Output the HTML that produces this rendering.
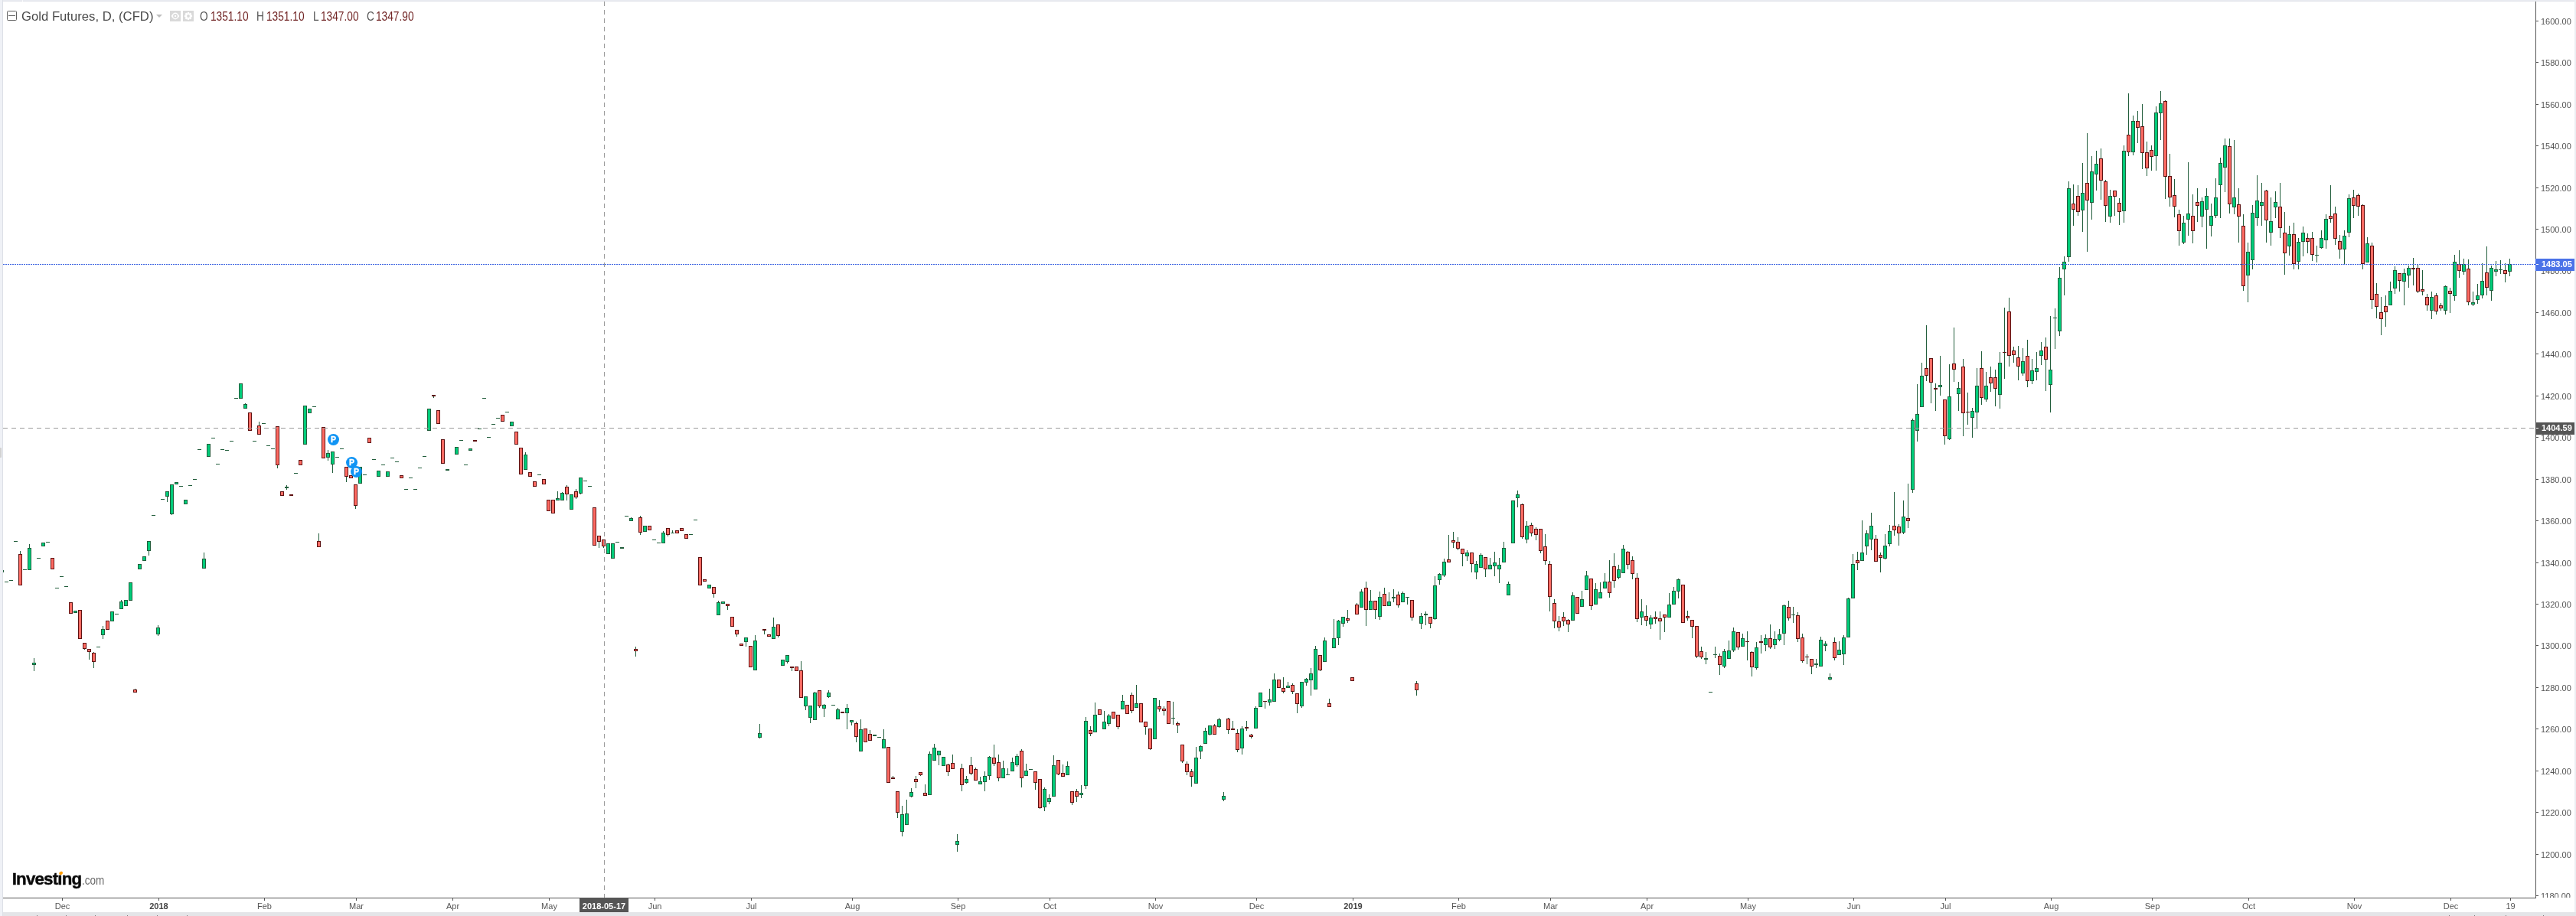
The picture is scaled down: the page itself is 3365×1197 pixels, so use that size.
<!DOCTYPE html>
<html><head><meta charset="utf-8"><title>Gold Futures</title>
<style>
html,body{margin:0;padding:0;background:#fff}
body{width:3365px;height:1197px;position:relative;overflow:hidden;font-family:"Liberation Sans",sans-serif;color:#555}
i,span,div,svg{position:absolute;display:block}
span{white-space:nowrap}
#lb{left:0;top:0;width:3px;height:1197px;background:#eff1f6;border-right:1px solid #dde0e7}
#tb{left:0;top:0;width:3365px;height:1px;background:#e9ebf1;border-bottom:1px solid #dfe2e9}
#rb{left:3363px;top:0;width:2px;height:1197px;background:#eceef3}
#bb{left:3px;top:1192px;width:3362px;height:5px;background:#e4e5e8}
#ax{left:3312px;top:2px;width:1px;height:1172px;background:#555}
#ay{left:4px;top:1173px;width:3309px;height:1px;background:#555}
.pt{left:3313px;width:3px;height:1px;background:#555}
.pl{left:3319px;font-size:11px;line-height:13px;height:13px;color:#555}
.tt{top:1174px;width:1px;height:3px;background:#555}
.tl{top:1178px;width:61px;text-align:center;font-size:11px;line-height:13px;color:#555}
.tl.b{font-weight:bold;color:#444}
#pclip{left:3313px;top:0;width:50px;height:1173px;overflow:hidden}
svg{left:0;top:0}
.h{top:11.5px;line-height:20px;height:20px}
.t17{font-size:16.4px;color:#4a4a4a;transform:scaleX(1.018);transform-origin:0 0;top:10.8px}
.t14{font-size:16px;transform:scaleX(.856);transform-origin:0 0}
.v{color:#722626}
#wrap{left:0;top:0;width:3365px;height:1197px;will-change:transform}
.pm{width:15px;height:15px;border-radius:50%;background:#1094f4;color:#fff;font-weight:bold;font-size:10.5px;line-height:15px;text-align:center;-webkit-text-stroke:.3px #fff}
</style></head><body><div id="wrap">
<div id="tb"></div><div id="rb"></div><div id="bb"></div>
<svg width="3365" height="1197" viewBox="0 0 3365 1197" shape-rendering="crispEdges">
<path d="M26.5 720V765M38.5 711V745M44.5 860V877M110.5 840V849M116.5 848V862M122.5 852V873M134.5 818V835M158.5 784V796M176.5 900V905M194.5 707V726M206.5 817V831M218.5 642V656M224.5 633V673M266.5 722V743M320.5 527V534M338.5 551V568M362.5 557V612M374.5 634V640M416.5 697V715M428.5 588V602M434.5 590V618M452.5 610V630M464.5 633V665M566.5 516V520M686.5 591V614M728.5 642V654M734.5 643V654M740.5 634V654M752.5 639V652M758.5 624V646M782.5 700V716M788.5 705V716M824.5 676V681M830.5 845V858M836.5 674V699M866.5 694V710M872.5 690V701M878.5 693V697M932.5 767V781M938.5 785V804M950.5 789V797M962.5 823V832M974.5 833V845M986.5 830V876M992.5 946V965M998.5 822V829M1010.5 807V835M1016.5 816V833M1028.5 856V867M1034.5 871V877M1046.5 864V912M1052.5 910V928M1058.5 922V945M1064.5 904V941M1070.5 902V925M1076.5 920V937M1082.5 902V912M1094.5 925V940M1106.5 920V953M1112.5 941V948M1118.5 943V970M1124.5 940V982M1136.5 954V968M1154.5 953V978M1166.5 1014V1018M1172.5 1034V1069M1178.5 1053V1093M1184.5 1045V1078M1190.5 1030V1042M1196.5 1014V1030M1202.5 1009V1014M1208.5 1025V1040M1214.5 982V1039M1220.5 972V994M1226.5 981V1000M1238.5 998V1014M1244.5 986V1005M1250.5 1090V1113M1256.5 998V1034M1262.5 1014V1024M1268.5 989V1013M1274.5 1003V1020M1280.5 1015V1025M1286.5 1008V1034M1292.5 988V1019M1298.5 973V1001M1304.5 986V1021M1310.5 994V1017M1316.5 1004V1013M1322.5 990V1008M1328.5 985V1002M1334.5 979V1029M1340.5 998V1014M1352.5 1008V1032M1358.5 1018V1057M1364.5 1029V1060M1370.5 1038V1051M1376.5 987V1041M1382.5 993V1013M1388.5 999V1015M1394.5 995V1013M1400.5 1034V1052M1406.5 1031V1048M1412.5 1026V1043M1418.5 937V1031M1424.5 949V962M1430.5 918V957M1442.5 929V953M1448.5 933V949M1460.5 934V953M1466.5 908V927M1478.5 905V932M1484.5 895V925M1496.5 943V960M1502.5 952V980M1514.5 915V930M1520.5 923V935M1532.5 917V947M1538.5 943V958M1544.5 973V997M1550.5 995V1013M1556.5 1005V1028M1562.5 976V1024M1568.5 974V992M1574.5 951V972M1580.5 948V961M1586.5 946V960M1592.5 938V951M1598.5 1035V1047M1604.5 938V959M1610.5 942V954M1616.5 953V983M1622.5 949V986M1628.5 942V955M1634.5 959V965M1640.5 923V952M1652.5 916V926M1658.5 900V922M1664.5 880V917M1676.5 885V906M1682.5 891V899M1688.5 893V907M1694.5 906V932M1700.5 891V925M1706.5 886V896M1712.5 873V909M1718.5 844V901M1724.5 856V877M1730.5 833V865M1736.5 913V924M1742.5 809V847M1748.5 810V843M1754.5 806V819M1760.5 797V814M1772.5 788V803M1778.5 770V794M1784.5 760V818M1790.5 771V797M1796.5 785V809M1802.5 773V810M1808.5 768V792M1814.5 774V792M1820.5 770V787M1826.5 773V794M1832.5 773V787M1838.5 780V790M1844.5 784V811M1850.5 890V909M1856.5 801V822M1862.5 799V817M1868.5 806V821M1874.5 753V810M1880.5 749V764M1886.5 730V754M1892.5 699V735M1898.5 695V716M1904.5 702V719M1910.5 717V740M1916.5 719V733M1922.5 722V748M1928.5 733V757M1934.5 723V742M1940.5 728V754M1946.5 729V744M1952.5 721V753M1958.5 729V762M1964.5 708V735M1970.5 760V778M1982.5 641V663M1988.5 658V704M1994.5 681V710M2000.5 683V701M2006.5 689V706M2012.5 691V723M2018.5 698V738M2024.5 733V799M2030.5 783V821M2036.5 805V825M2042.5 800V818M2048.5 809V826M2054.5 774V811M2066.5 772V793M2072.5 746V771M2078.5 756V797M2084.5 762V790M2090.5 761V782M2096.5 749V769M2102.5 732V781M2108.5 723V768M2114.5 738V757M2120.5 712V749M2126.5 720V744M2132.5 727V757M2138.5 749V813M2144.5 783V817M2150.5 791V818M2156.5 804V822M2162.5 799V815M2168.5 799V836M2174.5 803V826M2180.5 775V807M2186.5 767V790M2192.5 756V782M2204.5 798V811M2210.5 810V834M2216.5 818V860M2222.5 845V861M2228.5 852V868M2240.5 845V860M2246.5 854V882M2252.5 848V873M2258.5 837V861M2264.5 820V852M2270.5 826V849M2276.5 828V845M2282.5 825V863M2288.5 851V884M2294.5 839V875M2300.5 830V854M2306.5 829V851M2312.5 816V848M2318.5 825V848M2324.5 822V838M2330.5 790V843M2336.5 785V811M2342.5 793V814M2348.5 800V839M2354.5 828V866M2360.5 855V868M2366.5 861V881M2372.5 861V873M2378.5 832V871M2384.5 838V851M2390.5 880V889M2396.5 833V863M2402.5 838V856M2408.5 830V869M2414.5 781V833M2420.5 724V782M2426.5 721V745M2432.5 680V733M2438.5 693V725M2444.5 670V719M2450.5 699V734M2456.5 722V748M2462.5 698V731M2468.5 686V714M2474.5 643V700M2480.5 685V713M2486.5 654V698M2492.5 632V690M2498.5 547V644M2504.5 502V577M2510.5 474V532M2516.5 425V498M2522.5 468V527M2528.5 501V537M2534.5 465V517M2540.5 522V581M2546.5 476V575M2552.5 428V499M2558.5 499V537M2564.5 469V570M2570.5 513V555M2576.5 533V572M2582.5 481V559M2588.5 459V529M2594.5 486V525M2600.5 479V512M2606.5 483V531M2612.5 460V534M2618.5 402V495M2624.5 389V479M2630.5 453V474M2636.5 452V497M2642.5 455V491M2648.5 444V506M2654.5 469V502M2660.5 460V497M2666.5 447V477M2672.5 441V511M2678.5 413V539M2684.5 403V456M2690.5 349V439M2696.5 335V386M2702.5 237V342M2708.5 241V295M2714.5 242V282M2720.5 213V303M2726.5 174V329M2732.5 204V287M2738.5 197V249M2744.5 194V261M2750.5 235V290M2756.5 248V291M2762.5 249V282M2768.5 259V294M2774.5 190V291M2780.5 122V204M2786.5 151V203M2792.5 145V187M2798.5 136V221M2804.5 185V230M2810.5 190V223M2816.5 139V223M2822.5 119V183M2828.5 131V260M2834.5 201V270M2840.5 234V284M2846.5 274V321M2852.5 282V319M2858.5 212V308M2864.5 254V318M2870.5 246V290M2876.5 258V297M2882.5 246V325M2888.5 266V309M2894.5 233V285M2900.5 206V285M2906.5 181V251M2912.5 181V279M2918.5 183V280M2924.5 246V317M2930.5 280V380M2936.5 317V395M2942.5 268V352M2948.5 229V295M2954.5 239V295M2960.5 248V317M2966.5 258V321M2972.5 250V285M2978.5 239V311M2984.5 277V359M2990.5 295V334M2996.5 291V352M3002.5 311V352M3008.5 296V335M3014.5 305V331M3020.5 303V341M3026.5 321V343M3032.5 301V325M3038.5 280V325M3044.5 242V291M3050.5 270V320M3056.5 307V338M3062.5 301V346M3068.5 254V310M3074.5 248V285M3080.5 253V282M3086.5 267V352M3092.5 310V343M3098.5 317V404M3104.5 370V416M3110.5 388V438M3116.5 386V427M3122.5 368V399M3128.5 348V384M3134.5 357V381M3140.5 351V399M3146.5 347V376M3152.5 337V373M3158.5 346V383M3164.5 353V386M3170.5 384V406M3176.5 381V417M3182.5 383V411M3188.5 396V406M3194.5 373V411M3200.5 376V409M3206.5 333V393M3212.5 327V363M3218.5 338V359M3224.5 339V399M3230.5 381V400M3236.5 371V397M3242.5 344V390M3248.5 322V386M3254.5 347V393M3260.5 341V361M3266.5 340V358M3272.5 344V369M3278.5 338V361" stroke="#225e3c" fill="none"/>
<path d="M0.5 745.5h4v2h-4zM36.5 716.5h4v28h-4zM42.5 866.5h4v2h-4zM54.5 709.5h4v4h-4zM96.5 798.5h4v2h-4zM132.5 822.5h4v7h-4zM144.5 799.5h4v12h-4zM156.5 786.5h4v9h-4zM162.5 784.5h4v7h-4zM168.5 761.5h4v23h-4zM180.5 737.5h4v6h-4zM186.5 727.5h4v5h-4zM192.5 707.5h4v12h-4zM204.5 820.5h4v8h-4zM216.5 642.5h4v6h-4zM222.5 633.5h4v38h-4zM228.5 630.5h4v2h-4zM240.5 653.5h4v5h-4zM264.5 730.5h4v12h-4zM270.5 580.5h4v16h-4zM312.5 501.5h4v19h-4zM318.5 528.5h4v5h-4zM372.5 636.5h4v1h-4zM396.5 530.5h4v50h-4zM402.5 534.5h4v5h-4zM426.5 592.5h4v5h-4zM432.5 590.5h4v16h-4zM468.5 610.5h4v21h-4zM492.5 615.5h4v7h-4zM504.5 616.5h4v6h-4zM558.5 534.5h4v28h-4zM582.5 613.5h4v1h-4zM594.5 584.5h4v9h-4zM612.5 586.5h4v2h-4zM666.5 551.5h4v5h-4zM684.5 594.5h4v19h-4zM726.5 651.5h4v2h-4zM732.5 644.5h4v9h-4zM744.5 646.5h4v19h-4zM756.5 624.5h4v20h-4zM792.5 710.5h4v13h-4zM798.5 710.5h4v19h-4zM810.5 715.5h4v1h-4zM822.5 677.5h4v3h-4zM840.5 687.5h4v7h-4zM864.5 696.5h4v13h-4zM924.5 764.5h4v4h-4zM936.5 787.5h4v16h-4zM942.5 786.5h4v2h-4zM972.5 833.5h4v5h-4zM984.5 837.5h4v38h-4zM990.5 958.5h4v5h-4zM1008.5 819.5h4v15h-4zM1020.5 862.5h4v7h-4zM1026.5 856.5h4v8h-4zM1050.5 910.5h4v12h-4zM1056.5 922.5h4v15h-4zM1062.5 905.5h4v35h-4zM1074.5 921.5h4v4h-4zM1080.5 905.5h4v5h-4zM1092.5 927.5h4v12h-4zM1104.5 925.5h4v6h-4zM1110.5 941.5h4v2h-4zM1122.5 953.5h4v28h-4zM1140.5 960.5h4v1h-4zM1152.5 966.5h4v11h-4zM1176.5 1064.5h4v22h-4zM1182.5 1063.5h4v14h-4zM1188.5 1035.5h4v5h-4zM1212.5 985.5h4v53h-4zM1218.5 977.5h4v16h-4zM1224.5 981.5h4v5h-4zM1230.5 989.5h4v11h-4zM1248.5 1099.5h4v4h-4zM1260.5 1018.5h4v4h-4zM1278.5 1021.5h4v3h-4zM1284.5 1014.5h4v7h-4zM1290.5 989.5h4v24h-4zM1308.5 1004.5h4v12h-4zM1320.5 996.5h4v11h-4zM1326.5 988.5h4v11h-4zM1338.5 1007.5h4v6h-4zM1362.5 1031.5h4v23h-4zM1368.5 1043.5h4v4h-4zM1374.5 1000.5h4v40h-4zM1392.5 1001.5h4v11h-4zM1410.5 1036.5h4v2h-4zM1416.5 942.5h4v84h-4zM1428.5 934.5h4v22h-4zM1440.5 943.5h4v9h-4zM1446.5 935.5h4v10h-4zM1464.5 916.5h4v10h-4zM1482.5 919.5h4v5h-4zM1506.5 912.5h4v53h-4zM1560.5 990.5h4v33h-4zM1566.5 975.5h4v6h-4zM1572.5 955.5h4v16h-4zM1578.5 948.5h4v11h-4zM1590.5 940.5h4v9h-4zM1596.5 1040.5h4v4h-4zM1620.5 952.5h4v25h-4zM1638.5 925.5h4v26h-4zM1644.5 905.5h4v18h-4zM1656.5 914.5h4v3h-4zM1662.5 888.5h4v28h-4zM1680.5 896.5h4v2h-4zM1698.5 891.5h4v31h-4zM1704.5 887.5h4v4h-4zM1710.5 880.5h4v8h-4zM1716.5 848.5h4v52h-4zM1728.5 837.5h4v27h-4zM1740.5 834.5h4v12h-4zM1746.5 811.5h4v22h-4zM1752.5 806.5h4v8h-4zM1776.5 773.5h4v20h-4zM1788.5 785.5h4v11h-4zM1800.5 780.5h4v25h-4zM1812.5 786.5h4v5h-4zM1818.5 780.5h4v1h-4zM1830.5 775.5h4v11h-4zM1854.5 805.5h4v9h-4zM1860.5 802.5h4v1h-4zM1872.5 765.5h4v43h-4zM1878.5 750.5h4v7h-4zM1884.5 734.5h4v17h-4zM1914.5 722.5h4v4h-4zM1926.5 737.5h4v10h-4zM1932.5 725.5h4v16h-4zM1944.5 738.5h4v5h-4zM1950.5 735.5h4v4h-4zM1956.5 738.5h4v5h-4zM1962.5 716.5h4v18h-4zM1968.5 763.5h4v14h-4zM1974.5 654.5h4v55h-4zM1980.5 646.5h4v4h-4zM1992.5 687.5h4v17h-4zM2052.5 778.5h4v32h-4zM2064.5 783.5h4v9h-4zM2070.5 752.5h4v18h-4zM2082.5 770.5h4v19h-4zM2088.5 774.5h4v7h-4zM2094.5 760.5h4v8h-4zM2112.5 744.5h4v10h-4zM2118.5 717.5h4v31h-4zM2142.5 799.5h4v7h-4zM2154.5 807.5h4v8h-4zM2178.5 790.5h4v16h-4zM2184.5 772.5h4v17h-4zM2190.5 757.5h4v15h-4zM2226.5 860.5h4v1h-4zM2250.5 851.5h4v19h-4zM2256.5 850.5h4v10h-4zM2262.5 825.5h4v24h-4zM2274.5 834.5h4v10h-4zM2292.5 846.5h4v26h-4zM2304.5 834.5h4v8h-4zM2316.5 835.5h4v7h-4zM2322.5 829.5h4v6h-4zM2328.5 791.5h4v36h-4zM2370.5 867.5h4v1h-4zM2376.5 836.5h4v34h-4zM2382.5 841.5h4v2h-4zM2388.5 885.5h4v2h-4zM2400.5 849.5h4v6h-4zM2406.5 833.5h4v21h-4zM2412.5 782.5h4v50h-4zM2418.5 737.5h4v44h-4zM2430.5 722.5h4v10h-4zM2436.5 697.5h4v16h-4zM2442.5 687.5h4v17h-4zM2460.5 713.5h4v16h-4zM2466.5 694.5h4v16h-4zM2484.5 675.5h4v20h-4zM2496.5 549.5h4v90h-4zM2502.5 541.5h4v21h-4zM2508.5 491.5h4v40h-4zM2532.5 503.5h4v2h-4zM2544.5 518.5h4v55h-4zM2556.5 507.5h4v7h-4zM2574.5 537.5h4v8h-4zM2580.5 504.5h4v34h-4zM2592.5 504.5h4v17h-4zM2610.5 474.5h4v41h-4zM2640.5 472.5h4v15h-4zM2652.5 484.5h4v13h-4zM2658.5 481.5h4v4h-4zM2664.5 458.5h4v6h-4zM2676.5 483.5h4v19h-4zM2688.5 363.5h4v69h-4zM2694.5 342.5h4v9h-4zM2700.5 246.5h4v89h-4zM2718.5 252.5h4v22h-4zM2730.5 224.5h4v40h-4zM2736.5 214.5h4v13h-4zM2754.5 256.5h4v26h-4zM2772.5 197.5h4v78h-4zM2784.5 158.5h4v40h-4zM2814.5 147.5h4v56h-4zM2820.5 135.5h4v12h-4zM2850.5 291.5h4v25h-4zM2856.5 279.5h4v7h-4zM2874.5 263.5h4v19h-4zM2880.5 256.5h4v17h-4zM2886.5 282.5h4v12h-4zM2892.5 258.5h4v23h-4zM2898.5 213.5h4v28h-4zM2904.5 190.5h4v28h-4zM2916.5 258.5h4v12h-4zM2934.5 329.5h4v30h-4zM2940.5 278.5h4v61h-4zM2946.5 262.5h4v22h-4zM2952.5 264.5h4v4h-4zM2964.5 289.5h4v14h-4zM2970.5 264.5h4v6h-4zM2988.5 306.5h4v15h-4zM3000.5 316.5h4v25h-4zM3006.5 304.5h4v11h-4zM3030.5 311.5h4v12h-4zM3036.5 286.5h4v27h-4zM3060.5 308.5h4v17h-4zM3066.5 259.5h4v44h-4zM3090.5 318.5h4v24h-4zM3120.5 380.5h4v18h-4zM3126.5 353.5h4v23h-4zM3138.5 357.5h4v10h-4zM3144.5 350.5h4v9h-4zM3174.5 388.5h4v17h-4zM3192.5 374.5h4v31h-4zM3204.5 342.5h4v44h-4zM3216.5 345.5h4v9h-4zM3228.5 395.5h4v2h-4zM3234.5 386.5h4v5h-4zM3240.5 367.5h4v18h-4zM3252.5 350.5h4v29h-4zM3258.5 352.5h4v2h-4zM3276.5 345.5h4v9h-4z" stroke="#225e3c" fill="#00cc7a"/>
<path d="M24.5 724.5h4v40h-4zM66.5 729.5h4v14h-4zM90.5 787.5h4v14h-4zM102.5 797.5h4v37h-4zM108.5 840.5h4v7h-4zM114.5 848.5h4v3h-4zM120.5 853.5h4v11h-4zM138.5 811.5h4v11h-4zM174.5 901.5h4v3h-4zM324.5 539.5h4v23h-4zM336.5 556.5h4v11h-4zM360.5 557.5h4v50h-4zM366.5 642.5h4v5h-4zM378.5 646.5h4v1h-4zM390.5 601.5h4v6h-4zM414.5 707.5h4v7h-4zM420.5 558.5h4v40h-4zM450.5 610.5h4v12h-4zM456.5 621.5h4v3h-4zM462.5 633.5h4v27h-4zM480.5 572.5h4v6h-4zM522.5 621.5h4v3h-4zM564.5 516.5h4v1h-4zM570.5 536.5h4v17h-4zM576.5 574.5h4v31h-4zM618.5 575.5h4v1h-4zM654.5 542.5h4v8h-4zM672.5 564.5h4v16h-4zM678.5 585.5h4v34h-4zM690.5 617.5h4v5h-4zM696.5 629.5h4v6h-4zM708.5 626.5h4v6h-4zM714.5 653.5h4v14h-4zM720.5 653.5h4v17h-4zM738.5 636.5h4v9h-4zM750.5 642.5h4v7h-4zM774.5 663.5h4v49h-4zM780.5 700.5h4v7h-4zM786.5 705.5h4v8h-4zM828.5 848.5h4v2h-4zM834.5 676.5h4v19h-4zM846.5 687.5h4v5h-4zM870.5 690.5h4v8h-4zM882.5 693.5h4v3h-4zM888.5 690.5h4v3h-4zM894.5 698.5h4v5h-4zM912.5 728.5h4v36h-4zM918.5 757.5h4v2h-4zM930.5 767.5h4v8h-4zM948.5 789.5h4v2h-4zM954.5 806.5h4v12h-4zM960.5 823.5h4v5h-4zM966.5 841.5h4v2h-4zM978.5 844.5h4v27h-4zM996.5 822.5h4v1h-4zM1002.5 829.5h4v2h-4zM1014.5 816.5h4v14h-4zM1032.5 871.5h4v1h-4zM1038.5 871.5h4v5h-4zM1044.5 876.5h4v35h-4zM1068.5 902.5h4v20h-4zM1098.5 930.5h4v1h-4zM1116.5 945.5h4v17h-4zM1128.5 952.5h4v17h-4zM1134.5 959.5h4v8h-4zM1158.5 976.5h4v46h-4zM1164.5 1016.5h4v1h-4zM1170.5 1034.5h4v27h-4zM1194.5 1018.5h4v3h-4zM1200.5 1009.5h4v3h-4zM1206.5 1036.5h4v3h-4zM1236.5 999.5h4v9h-4zM1242.5 997.5h4v7h-4zM1254.5 1004.5h4v21h-4zM1266.5 1000.5h4v10h-4zM1272.5 1005.5h4v14h-4zM1296.5 990.5h4v7h-4zM1302.5 996.5h4v20h-4zM1332.5 981.5h4v35h-4zM1350.5 1008.5h4v14h-4zM1356.5 1018.5h4v37h-4zM1380.5 993.5h4v18h-4zM1386.5 1010.5h4v4h-4zM1398.5 1034.5h4v14h-4zM1404.5 1034.5h4v6h-4zM1422.5 954.5h4v4h-4zM1434.5 927.5h4v6h-4zM1452.5 930.5h4v8h-4zM1458.5 934.5h4v15h-4zM1470.5 921.5h4v11h-4zM1476.5 908.5h4v20h-4zM1488.5 919.5h4v24h-4zM1494.5 943.5h4v6h-4zM1500.5 952.5h4v26h-4zM1512.5 923.5h4v3h-4zM1518.5 926.5h4v2h-4zM1524.5 916.5h4v29h-4zM1536.5 945.5h4v2h-4zM1542.5 973.5h4v21h-4zM1548.5 998.5h4v10h-4zM1554.5 1008.5h4v6h-4zM1584.5 948.5h4v11h-4zM1602.5 939.5h4v14h-4zM1608.5 952.5h4v1h-4zM1614.5 958.5h4v21h-4zM1626.5 950.5h4v1h-4zM1632.5 960.5h4v2h-4zM1668.5 888.5h4v10h-4zM1674.5 899.5h4v4h-4zM1686.5 895.5h4v8h-4zM1692.5 906.5h4v13h-4zM1722.5 856.5h4v19h-4zM1734.5 919.5h4v4h-4zM1758.5 808.5h4v2h-4zM1764.5 885.5h4v4h-4zM1770.5 790.5h4v12h-4zM1782.5 768.5h4v28h-4zM1794.5 785.5h4v11h-4zM1806.5 776.5h4v15h-4zM1824.5 777.5h4v13h-4zM1842.5 784.5h4v22h-4zM1848.5 893.5h4v8h-4zM1866.5 806.5h4v8h-4zM1890.5 731.5h4v3h-4zM1896.5 706.5h4v2h-4zM1902.5 708.5h4v8h-4zM1908.5 717.5h4v6h-4zM1920.5 722.5h4v14h-4zM1938.5 728.5h4v15h-4zM1986.5 659.5h4v42h-4zM1998.5 686.5h4v10h-4zM2004.5 691.5h4v7h-4zM2010.5 691.5h4v28h-4zM2016.5 714.5h4v18h-4zM2022.5 737.5h4v42h-4zM2028.5 788.5h4v23h-4zM2034.5 812.5h4v7h-4zM2040.5 806.5h4v5h-4zM2046.5 810.5h4v5h-4zM2058.5 780.5h4v21h-4zM2076.5 756.5h4v35h-4zM2100.5 760.5h4v14h-4zM2106.5 740.5h4v18h-4zM2124.5 721.5h4v16h-4zM2130.5 732.5h4v17h-4zM2136.5 755.5h4v53h-4zM2148.5 805.5h4v5h-4zM2160.5 806.5h4v2h-4zM2166.5 808.5h4v3h-4zM2172.5 803.5h4v3h-4zM2196.5 764.5h4v49h-4zM2202.5 805.5h4v2h-4zM2208.5 810.5h4v8h-4zM2214.5 818.5h4v39h-4zM2220.5 851.5h4v7h-4zM2244.5 857.5h4v11h-4zM2268.5 826.5h4v19h-4zM2286.5 852.5h4v19h-4zM2298.5 838.5h4v1h-4zM2310.5 834.5h4v11h-4zM2334.5 793.5h4v14h-4zM2346.5 804.5h4v30h-4zM2352.5 833.5h4v30h-4zM2364.5 861.5h4v9h-4zM2394.5 839.5h4v20h-4zM2424.5 732.5h4v3h-4zM2448.5 704.5h4v29h-4zM2454.5 725.5h4v3h-4zM2472.5 687.5h4v5h-4zM2478.5 688.5h4v8h-4zM2490.5 677.5h4v3h-4zM2514.5 481.5h4v9h-4zM2520.5 468.5h4v31h-4zM2526.5 507.5h4v1h-4zM2538.5 522.5h4v47h-4zM2550.5 475.5h4v7h-4zM2562.5 479.5h4v60h-4zM2586.5 481.5h4v38h-4zM2598.5 493.5h4v7h-4zM2604.5 493.5h4v14h-4zM2622.5 407.5h4v57h-4zM2628.5 458.5h4v5h-4zM2634.5 467.5h4v11h-4zM2646.5 465.5h4v32h-4zM2670.5 453.5h4v16h-4zM2706.5 266.5h4v7h-4zM2712.5 256.5h4v20h-4zM2724.5 239.5h4v22h-4zM2742.5 207.5h4v28h-4zM2748.5 237.5h4v31h-4zM2760.5 249.5h4v7h-4zM2766.5 265.5h4v11h-4zM2778.5 176.5h4v22h-4zM2790.5 158.5h4v8h-4zM2796.5 165.5h4v34h-4zM2802.5 199.5h4v20h-4zM2808.5 196.5h4v8h-4zM2826.5 132.5h4v98h-4zM2832.5 230.5h4v27h-4zM2838.5 255.5h4v14h-4zM2844.5 280.5h4v21h-4zM2862.5 282.5h4v19h-4zM2868.5 264.5h4v4h-4zM2910.5 191.5h4v75h-4zM2922.5 267.5h4v15h-4zM2928.5 295.5h4v78h-4zM2958.5 249.5h4v38h-4zM2976.5 270.5h4v27h-4zM2982.5 304.5h4v26h-4zM2994.5 306.5h4v38h-4zM3012.5 311.5h4v4h-4zM3018.5 311.5h4v21h-4zM3042.5 282.5h4v3h-4zM3048.5 279.5h4v32h-4zM3054.5 315.5h4v10h-4zM3072.5 258.5h4v10h-4zM3078.5 255.5h4v14h-4zM3084.5 268.5h4v76h-4zM3096.5 321.5h4v70h-4zM3102.5 384.5h4v16h-4zM3108.5 408.5h4v8h-4zM3114.5 400.5h4v7h-4zM3132.5 357.5h4v9h-4zM3150.5 350.5h4v1h-4zM3156.5 350.5h4v30h-4zM3162.5 378.5h4v2h-4zM3168.5 388.5h4v10h-4zM3180.5 386.5h4v20h-4zM3186.5 399.5h4v3h-4zM3198.5 380.5h4v3h-4zM3210.5 345.5h4v8h-4zM3222.5 351.5h4v43h-4zM3246.5 356.5h4v19h-4zM3270.5 353.5h4v4h-4z" stroke="#5e1212" fill="#ff6b63"/>
<path d="M6 760.5h5M12 758.5h5M18 707.5h5M30 744.5h5M48 729.5h5M60 708.5h5M72 768.5h5M78 753.5h5M84 766.5h5M126 845.5h5M150 802.5h5M198 673.5h5M210 652.5h5M234 635.5h5M246 634.5h5M252 626.5h5M258 587.5h5M276 572.5h5M282 606.5h5M288 587.5h5M294 588.5h5M300 576.5h5M306 520.5h5M330 576.5h5M342 553.5h5M348 582.5h5M354 586.5h5M384 618.5h5M408 531.5h5M438 597.5h5M444 586.5h5M474 620.5h5M486 600.5h5M498 607.5h5M510 598.5h5M516 603.5h5M528 639.5h5M534 624.5h5M540 639.5h5M546 611.5h5M552 596.5h5M588 559.5h5M600 575.5h5M606 607.5h5M624 560.5h5M630 520.5h5M636 571.5h5M642 554.5h5M648 546.5h5M660 538.5h5M702 620.5h5M762 628.5h5M768 635.5h5M804 708.5h5M816 674.5h5M852 705.5h5M858 709.5h5M876 696.5h5M900 698.5h5M906 679.5h5M1086 921.5h5M1146 963.5h5M1314 1012.5h5M1344 1005.5h5M1530 938.5h5M1836 780.5h5M2238 855.5h5M2232 904.5h5M2340 803.5h5M2682 415.5h5M3024 333.5h5M3264 352.5h5" stroke="#225e3c" fill="none"/>
<path d="M1650 916.5h5M2280 838.5h5M2358 858.5h5M2568 538.5h5M2616 460.5h5" stroke="#5e1212" fill="none"/>
<path d="M4 345.5H3312" stroke="#3f66e2" stroke-dasharray="2 1" fill="none"/>
<path d="M4 559.5H3312" stroke="#9b9b9b" stroke-dasharray="6 5" fill="none"/>
<path d="M789.5 2V1173" stroke="#9b9b9b" stroke-dasharray="6 5" fill="none"/>
</svg>
<div id="lb"></div><i style="left:0;top:585px;width:2px;height:13px;background:#d2d2d2;border-radius:0 1px 1px 0"></i><i style="left:48px;top:1196px;width:1px;height:1px;background:#7a7a7a"></i><i style="left:86px;top:1196px;width:1px;height:1px;background:#7a7a7a"></i><i style="left:124px;top:1196px;width:1px;height:1px;background:#7a7a7a"></i><i style="left:166px;top:1196px;width:1px;height:1px;background:#7a7a7a"></i><i style="left:205px;top:1196px;width:1px;height:1px;background:#7a7a7a"></i><i style="left:244px;top:1196px;width:1px;height:1px;background:#7a7a7a"></i><i style="left:3199px;top:1196px;width:1px;height:1px;background:#7a7a7a"></i><i style="left:3232px;top:1196px;width:1px;height:1px;background:#7a7a7a"></i><i style="left:3273px;top:1196px;width:1px;height:1px;background:#7a7a7a"></i><i style="left:3322px;top:1196px;width:1px;height:1px;background:#7a7a7a"></i>
<div id="ax"></div><div id="ay"></div>
<div id="pclip" style="left:0;width:3365px"><i class="pt" style="top:27px"></i><span class="pl" style="top:22px">1600.00</span><i class="pt" style="top:81px"></i><span class="pl" style="top:76px">1580.00</span><i class="pt" style="top:136px"></i><span class="pl" style="top:131px">1560.00</span><i class="pt" style="top:190px"></i><span class="pl" style="top:185px">1540.00</span><i class="pt" style="top:245px"></i><span class="pl" style="top:240px">1520.00</span><i class="pt" style="top:299px"></i><span class="pl" style="top:294px">1500.00</span><i class="pt" style="top:353px"></i><span class="pl" style="top:348px">1480.00</span><i class="pt" style="top:408px"></i><span class="pl" style="top:403px">1460.00</span><i class="pt" style="top:462px"></i><span class="pl" style="top:457px">1440.00</span><i class="pt" style="top:517px"></i><span class="pl" style="top:512px">1420.00</span><i class="pt" style="top:571px"></i><span class="pl" style="top:566px">1400.00</span><i class="pt" style="top:626px"></i><span class="pl" style="top:621px">1380.00</span><i class="pt" style="top:680px"></i><span class="pl" style="top:675px">1360.00</span><i class="pt" style="top:735px"></i><span class="pl" style="top:730px">1340.00</span><i class="pt" style="top:789px"></i><span class="pl" style="top:784px">1320.00</span><i class="pt" style="top:843px"></i><span class="pl" style="top:838px">1300.00</span><i class="pt" style="top:898px"></i><span class="pl" style="top:893px">1280.00</span><i class="pt" style="top:952px"></i><span class="pl" style="top:947px">1260.00</span><i class="pt" style="top:1007px"></i><span class="pl" style="top:1002px">1240.00</span><i class="pt" style="top:1061px"></i><span class="pl" style="top:1056px">1220.00</span><i class="pt" style="top:1116px"></i><span class="pl" style="top:1111px">1200.00</span><i class="pt" style="top:1170px"></i><span class="pl" style="top:1165px">1180.00</span></div>
<i class="tt" style="left:81px"></i><span class="tl" style="left:51px">Dec</span><i class="tt" style="left:207px"></i><span class="tl b" style="left:177px">2018</span><i class="tt" style="left:345px"></i><span class="tl" style="left:315px">Feb</span><i class="tt" style="left:465px"></i><span class="tl" style="left:435px">Mar</span><i class="tt" style="left:591px"></i><span class="tl" style="left:561px">Apr</span><i class="tt" style="left:717px"></i><span class="tl" style="left:687px">May</span><i class="tt" style="left:855px"></i><span class="tl" style="left:825px">Jun</span><i class="tt" style="left:981px"></i><span class="tl" style="left:951px">Jul</span><i class="tt" style="left:1113px"></i><span class="tl" style="left:1083px">Aug</span><i class="tt" style="left:1251px"></i><span class="tl" style="left:1221px">Sep</span><i class="tt" style="left:1371px"></i><span class="tl" style="left:1341px">Oct</span><i class="tt" style="left:1509px"></i><span class="tl" style="left:1479px">Nov</span><i class="tt" style="left:1641px"></i><span class="tl" style="left:1611px">Dec</span><i class="tt" style="left:1767px"></i><span class="tl b" style="left:1737px">2019</span><i class="tt" style="left:1905px"></i><span class="tl" style="left:1875px">Feb</span><i class="tt" style="left:2025px"></i><span class="tl" style="left:1995px">Mar</span><i class="tt" style="left:2151px"></i><span class="tl" style="left:2121px">Apr</span><i class="tt" style="left:2283px"></i><span class="tl" style="left:2253px">May</span><i class="tt" style="left:2421px"></i><span class="tl" style="left:2391px">Jun</span><i class="tt" style="left:2541px"></i><span class="tl" style="left:2511px">Jul</span><i class="tt" style="left:2679px"></i><span class="tl" style="left:2649px">Aug</span><i class="tt" style="left:2811px"></i><span class="tl" style="left:2781px">Sep</span><i class="tt" style="left:2937px"></i><span class="tl" style="left:2907px">Oct</span><i class="tt" style="left:3075px"></i><span class="tl" style="left:3045px">Nov</span><i class="tt" style="left:3201px"></i><span class="tl" style="left:3171px">Dec</span><i class="tt" style="left:3279px"></i><span class="tl" style="left:3249px">19</span>
<!-- header -->
<div style="left:9px;top:14px;width:11px;height:11px;border:1px solid #606060;border-radius:1.5px;background:#fff"><i style="left:1px;top:5px;width:9px;height:1px;background:#606060"></i></div><i style="left:29px;top:0;width:1px;height:2px;background:#f7f8fa"></i>
<span class="h t17" id="ttl" style="left:28.2px">Gold Futures, D, (CFD)</span>
<svg style="left:204px;top:19px" width="8" height="4" viewBox="0 0 8 4"><path d="M0 0h8l-4 4z" fill="#bdbdbd"/></svg>
<div style="left:222px;top:14px;width:14px;height:14px;background:#d9d9d9"><svg width="14" height="14" viewBox="0 0 14 14" shape-rendering="auto"><path d="M1.7 7Q7 -1.8 12.3 7Q7 15.8 1.7 7z" fill="#fff"/><circle cx="7" cy="7" r="2.9" fill="#d9d9d9"/><circle cx="7" cy="7" r="1.25" fill="#fff"/></svg></div>
<div style="left:239px;top:14px;width:14px;height:14px;background:#d9d9d9"><svg width="14" height="14" viewBox="0 0 14 14" shape-rendering="auto"><g fill="#fff"><circle cx="7" cy="7" r="3.8"/><rect x="5.8" y="1.9" width="2.4" height="10.2"/><rect x="1.9" y="5.8" width="10.2" height="2.4"/><rect x="5.8" y="1.9" width="2.4" height="10.2" transform="rotate(45 7 7)"/><rect x="5.8" y="1.9" width="2.4" height="10.2" transform="rotate(-45 7 7)"/></g><circle cx="7" cy="7" r="1.9" fill="#d9d9d9"/></svg></div>
<span class="h t14" style="left:261px">O</span><span class="h t14 v" style="left:274.5px">1351.10</span>
<span class="h t14" style="left:335px">H</span><span class="h t14 v" style="left:347.5px">1351.10</span>
<span class="h t14" style="left:408.5px">L</span><span class="h t14 v" style="left:418.5px">1347.00</span>
<span class="h t14" style="left:479px">C</span><span class="h t14 v" style="left:490.5px">1347.90</span>
<!-- labels on price axis -->
<div style="left:3312px;top:338px;width:51px;height:16px;background:#4a72e8"><i style="left:1px;top:7px;width:3px;height:1px;background:#fff"></i><span style="left:8px;top:1px;font-size:11px;line-height:13px;font-weight:bold;color:#fff">1483.05</span></div>
<div style="left:3312px;top:552px;width:51px;height:16px;background:#555"><i style="left:1px;top:7px;width:3px;height:1px;background:#fff"></i><span style="left:8px;top:1px;font-size:11px;line-height:13px;font-weight:bold;color:#fff">1404.59</span></div>
<!-- date label -->
<div style="left:757px;top:1174px;width:64px;height:18px;background:#555"><span style="left:0;top:4px;width:64px;text-align:center;font-size:11px;line-height:13px;font-weight:bold;color:#fff">2018-05-17</span></div>
<!-- P markers -->
<div class="pm" style="left:428px;top:566.5px">P</div><div class="pm" style="left:452px;top:596.5px">P</div><div class="pm" style="left:458px;top:608.5px">P</div>
<!-- logo -->
<span id="logo" style="left:15.7px;top:1135.8px;font-size:22.3px;line-height:26px;font-weight:bold;color:#0a0a0a;letter-spacing:-0.8px;-webkit-text-stroke:0.45px #0a0a0a">Investing</span><span style="left:107.3px;top:1141.1px;font-size:16px;line-height:20px;color:#6a6a6a;transform:scaleX(.845);transform-origin:0 0">.com</span>
<i style="left:75.7px;top:1138.6px;width:4.6px;height:4.6px;background:#fff"></i><i style="left:76.6px;top:1139.4px;width:5px;height:3.6px;background:#ff9c00;border-radius:50%;transform:rotate(-32deg)"></i>
</div></body></html>
